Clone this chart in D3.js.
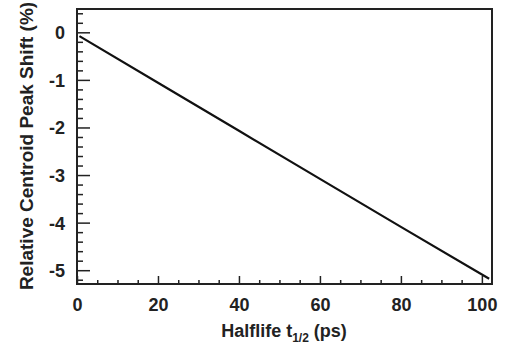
<!DOCTYPE html>
<html>
<head>
<meta charset="utf-8">
<script src="https://cdn.jsdelivr.net/npm/d3@7"></script>
<style>
  html, body { margin: 0; padding: 0; background: #fff; }
  svg { display: block; font-family: "Liberation Sans", Arial, sans-serif; }
</style>
</head>
<body>
<svg id="chart" width="512" height="351"></svg>
<script>
// Relative centroid peak shift versus halflife
const halflife = [0.6, 20, 40, 60, 80, 101.8];
const peakShift = [-0.08, -1.06, -2.07, -3.08, -4.09, -5.18];

const xMajorTicks = [0, 20, 40, 60, 80, 100];
const yMajorTicks = [0, -1, -2, -3, -4, -5];

const width = 512, height = 351;
const margin = { left: 77, top: 9, right: 20, bottom: 67 };

const svg = d3.select("#chart");

const x = d3.scaleLinear().domain([0, 102.5]).range([margin.left, width - margin.right]);
const y = d3.scaleLinear().domain([-5.29, 0.49]).range([height - margin.bottom, margin.top]);

const ink = "#222";
const fontFamily = "Liberation Sans, Arial, sans-serif";
const plain = d => String(d);

// x axis: major ticks every 20, minor every 5, pointing inward
const xMinor = d3.range(0, 102.5, 5).filter(v => v % 20 !== 0);
const xAxisMinor = d3.axisTop(x).tickValues(xMinor).tickSize(4).tickFormat("");
const xAxis = d3.axisTop(x).tickValues(xMajorTicks).tickSize(8).tickFormat(plain);

const gxm = svg.append("g").attr("transform", `translate(0,${y.range()[0]})`).call(xAxisMinor);
const gx = svg.append("g").attr("transform", `translate(0,${y.range()[0]})`).call(xAxis);

// y axis: major ticks every 1, minor every 0.2, pointing inward
const yMinor = d3.range(-5.2, 0.5, 0.2).map(v => +v.toFixed(1)).filter(v => Math.abs(v - Math.round(v)) > 1e-6);
const yAxisMinor = d3.axisRight(y).tickValues(yMinor).tickSize(6).tickFormat("");
const yAxis = d3.axisRight(y).tickValues(yMajorTicks).tickSize(13).tickFormat(plain);

const gym = svg.append("g").attr("transform", `translate(${x.range()[0]},0)`).call(yAxisMinor);
const gy = svg.append("g").attr("transform", `translate(${x.range()[0]},0)`).call(yAxis);

[gxm, gx, gym, gy].forEach(g => {
  g.attr("font-size", null).attr("font-family", null);
  g.select(".domain").remove();
  g.selectAll(".tick line").attr("stroke", ink).attr("stroke-width", 1.5);
});

// tick labels placed outside the frame
gx.selectAll(".tick text")
  .attr("y", 27).attr("dy", 0)
  .attr("text-anchor", "middle")
  .attr("fill", ink)
  .style("font-size", "18px").style("font-weight", "bold").style("font-family", fontFamily);

gy.selectAll(".tick text")
  .attr("x", -12).attr("dy", "0.36em")
  .attr("text-anchor", "end")
  .attr("fill", ink)
  .style("font-size", "18px").style("font-weight", "bold").style("font-family", fontFamily);

// data line
const line = d3.line().x((d, i) => x(halflife[i])).y(d => y(d));
svg.append("path")
  .datum(peakShift)
  .attr("d", line)
  .attr("fill", "none")
  .attr("stroke", "#111")
  .attr("stroke-width", 2.2);

// plot frame
svg.append("rect")
  .attr("x", x.range()[0]).attr("y", y.range()[1])
  .attr("width", x.range()[1] - x.range()[0])
  .attr("height", y.range()[0] - y.range()[1])
  .attr("fill", "none").attr("stroke", ink).attr("stroke-width", 2);

// axis titles
const xTitle = svg.append("text")
  .attr("x", 284)
  .attr("y", 337)
  .attr("text-anchor", "middle")
  .attr("fill", ink)
  .style("font-size", "18px").style("font-weight", "bold").style("font-family", fontFamily);
xTitle.append("tspan").text("Halflife t");
xTitle.append("tspan").style("font-size", "12px").attr("dy", 5).text("1/2");
xTitle.append("tspan").attr("dy", -5).text(" (ps)");

svg.append("text")
  .attr("transform", `translate(33,146) rotate(-90)`)
  .attr("text-anchor", "middle")
  .attr("fill", ink)
  .style("font-size", "19px").style("font-weight", "bold").style("font-family", fontFamily)
  .text("Relative Centroid Peak Shift (%)");
</script>
</body>
</html>
